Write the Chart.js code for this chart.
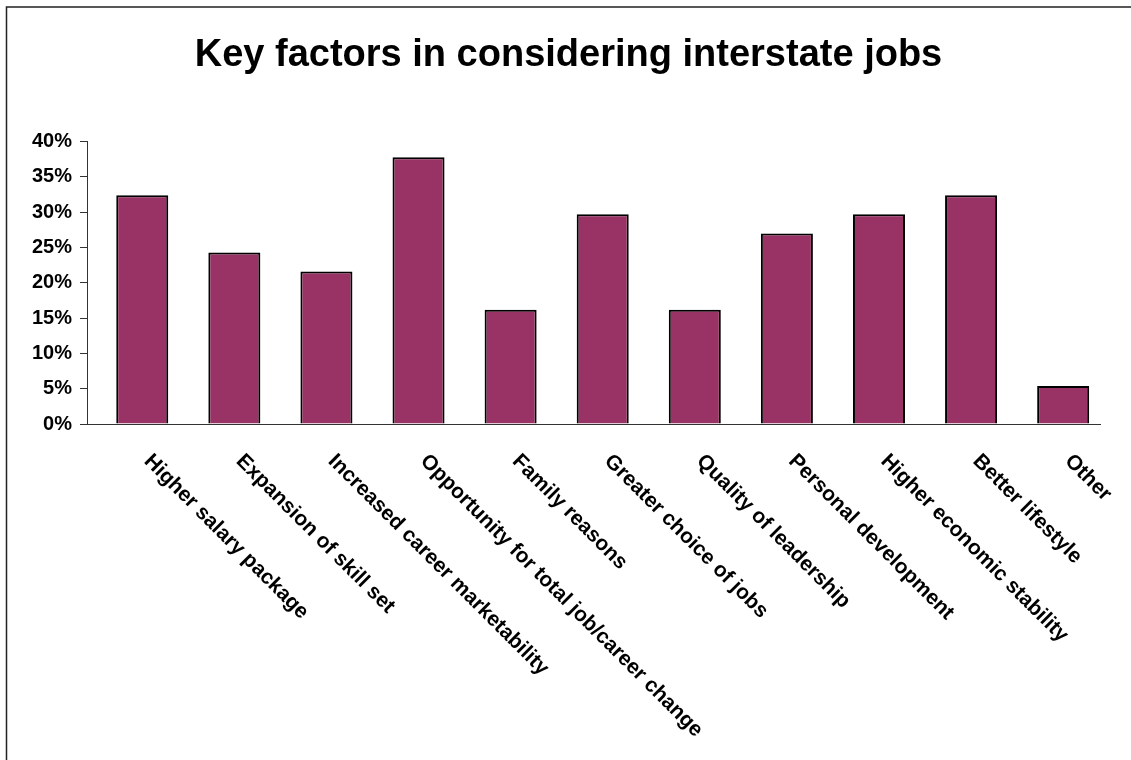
<!DOCTYPE html>
<html>
<head>
<meta charset="utf-8">
<title>Key factors in considering interstate jobs</title>
<script src="https://cdn.jsdelivr.net/npm/chart.js@4/dist/chart.umd.min.js"></script>
<style>
	html, body { margin: 0; padding: 0; background: #fff; }
	#wrap { position: relative; width: 1131px; height: 760px; }
</style>
</head>
<body>
<div id="wrap"><canvas id="factorsChart" width="1131" height="760"></canvas></div>
<script>
const categories = [
	'Higher salary package',
	'Expansion of skill set',
	'Increased career marketability',
	'Opportunity for total job/career change',
	'Family reasons',
	'Greater choice of jobs',
	'Quality of leadership',
	'Personal development',
	'Higher economic stability',
	'Better lifestyle',
	'Other'
];
const percentValues = [32.4, 24.3, 21.6, 37.8, 16.2, 29.7, 16.2, 27.0, 29.7, 32.4, 5.4];
const yTicks = [0, 5, 10, 15, 20, 25, 30, 35, 40];

const FONT = 'Arial, "Liberation Sans", Helvetica, sans-serif';

// frame round the chart (left and top edges only, as in the picture)
const framePlugin = {
	id: 'frame',
	beforeDraw(chart) {
		const ctx = chart.ctx;
		ctx.save();
		ctx.strokeStyle = '#222';
		ctx.lineWidth = 1.5;
		ctx.beginPath();
		ctx.moveTo(6.5, chart.height);
		ctx.lineTo(6.5, 7);
		ctx.lineTo(chart.width, 7);
		ctx.stroke();
		ctx.restore();
	}
};

// slanted category labels, reading down to the right from each bar
const slantLabels = {
	id: 'slantLabels',
	afterDraw(chart) {
		const ctx = chart.ctx;
		const xScale = chart.scales.x;
		const top = chart.chartArea.bottom + 34;
		ctx.save();
		ctx.font = 'bold 21px ' + FONT;
		ctx.fillStyle = '#000';
		ctx.textAlign = 'left';
		ctx.textBaseline = 'middle';
		categories.forEach((label, i) => {
			const x = xScale.getPixelForValue(i) + 5;
			ctx.save();
			ctx.translate(x, top);
			ctx.rotate(45 * Math.PI / 180);
			ctx.fillText(label, 0, 0);
			ctx.restore();
		});
		ctx.restore();
	}
};

const ctx = document.getElementById('factorsChart');

new Chart(ctx, {
	type: 'bar',
	data: {
		datasets: [{
			label: 'Key factors',
			data: percentValues.map((v, i) => ({ x: i, y: v })),
			backgroundColor: '#993366',
			borderColor: '#000',
			borderWidth: 2,
			categoryPercentage: 1,
			barPercentage: 0.565
		}]
	},
	options: {
		responsive: false,
		animation: false,
		layout: {
			padding: { left: 6, right: 0, top: 0, bottom: 328 }
		},
		plugins: {
			legend: { display: false },
			tooltip: { enabled: false },
			title: {
				display: true,
				text: 'Key factors in considering interstate jobs',
				color: '#000',
				font: { family: FONT, size: 38, weight: 'bold', lineHeight: 1.2 },
				padding: { top: 33, bottom: 63 }
			}
		},
		scales: {
			x: {
				type: 'linear',
				offset: false,
				min: -0.6,
				max: 10.4,
				afterBuildTicks: (scale) => {
					scale.ticks = categories.map((c, i) => ({ value: i }));
				},
				ticks: { display: false },
				grid: { display: false, offset: false },
				border: { display: true, color: '#333', width: 1 }
			},
			y: {
				min: 0,
				max: 40,
				afterBuildTicks: (scale) => {
					scale.ticks = yTicks.map(v => ({ value: v }));
				},
				afterFit: (scale) => {
					scale.width = 81;
				},
				ticks: {
					color: '#000',
					padding: 8,
					font: { family: FONT, size: 20, weight: 'bold' },
					callback: (v) => v + '%'
				},
				grid: {
					display: true,
					drawOnChartArea: false,
					drawTicks: true,
					tickLength: 7,
					color: '#333'
				},
				border: { display: true, color: '#333', width: 1 }
			},
			// empty right-hand box, only keeps the plot clear of the right edge
			yRight: {
				position: 'right',
				min: 0,
				max: 40,
				afterFit: (scale) => {
					scale.width = 31;
				},
				ticks: { display: false },
				grid: { display: false },
				border: { display: false }
			}
		}
	},
	plugins: [framePlugin, slantLabels]
});
</script>
</body>
</html>
